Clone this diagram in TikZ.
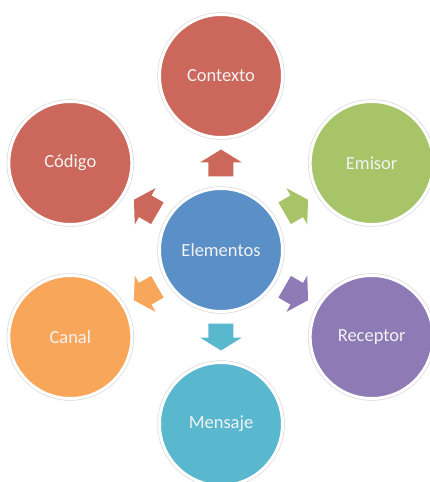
\documentclass[tikz,border=0pt]{standalone}
\usepackage{fontspec}
\setmainfont{Carlito}
\usetikzlibrary{calc}
\definecolor{rojo}{HTML}{CB675B}
\definecolor{verde}{HTML}{A8C468}
\definecolor{morado}{HTML}{8E7AB5}
\definecolor{celeste}{HTML}{5AB8CE}
\definecolor{naranja}{HTML}{F8A65A}
\definecolor{azul}{HTML}{5A8FC8}
\tikzset{pics/flecha/.style={code={
    \fill[#1] (-13.5,-12.5) -- (0.5,-12.5) -- (0.5,-21) -- (13.5,0) -- (0.5,21) -- (0.5,12.5) -- (-13.5,12.5) -- cycle;}}}
\begin{document}
\begin{tikzpicture}[x=1pt, y=1pt,
    circulo/.style={circle, fill=#1, draw=white, line width=3pt, minimum size=123pt, inner sep=0pt,
        text=white!95!black, font=\fontsize{18.5}{22}\selectfont,
        preaction={draw=black!15, line width=4.4pt}}]
        \useasboundingbox (-221,-232) rectangle (209,250);
        \node[circulo=azul] (elem) at (0,0) {Elementos};
        \node[circulo=rojo] (ctx) at (90:174) {Contexto};
        \node[circulo=verde] (emisor) at (30:174) {Emisor};
        \node[circulo=morado] (receptor) at (-30:174) {Receptor};
        \node[circulo=celeste] (mensaje) at (-90:174) {Mensaje};
        \node[circulo=naranja] (canal) at (-150:174) {Canal};
        \node[circulo=rojo] (codigo) at (150:174) {Código};
        \pic[rotate=90] (f1) at ($(elem)!0.5!(ctx)$) {flecha=rojo};
        \pic[rotate=30] (f2) at ($(elem)!0.5!(emisor)$) {flecha=verde};
        \pic[rotate=-30] (f3) at ($(elem)!0.5!(receptor)$) {flecha=morado};
        \pic[rotate=-90] (f4) at ($(elem)!0.5!(mensaje)$) {flecha=celeste};
        \pic[rotate=-150] (f5) at ($(elem)!0.5!(canal)$) {flecha=naranja};
        \pic[rotate=150] (f6) at ($(elem)!0.5!(codigo)$) {flecha=rojo};
    \end{tikzpicture}
\end{document}
